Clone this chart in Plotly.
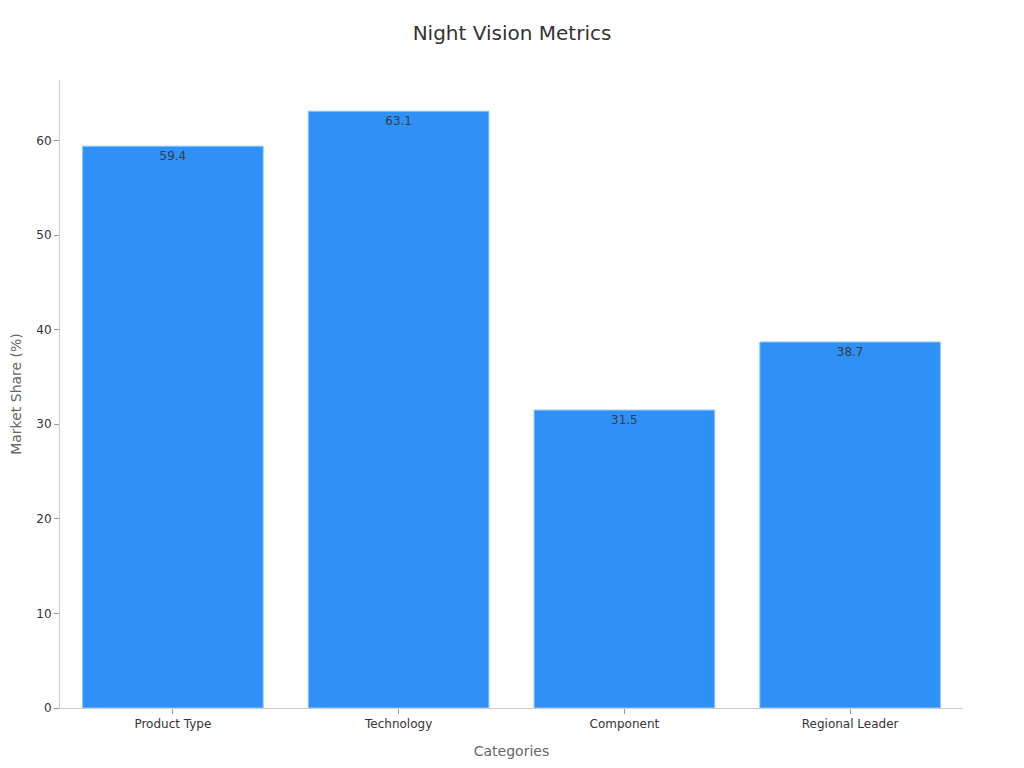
import plotly.graph_objects as go

categories = ["Product Type", "Technology", "Component", "Regional Leader"]
market_share = [59.4, 63.1, 31.5, 38.7]

fig = go.Figure()
fig.add_trace(go.Bar(
    x=categories,
    y=market_share,
    text=[f"{v:.1f}" for v in market_share],
    textposition="inside",
    insidetextanchor="end",
    textfont=dict(color="#3a3a3a", size=12),
    marker=dict(color="#2F91F8", line=dict(color="#8EC4FA", width=1)),
))

# page has an 8px body margin, so size the figure to fit the window
fig.update_layout(
    template="simple_white",
    title=dict(text="Night Vision Metrics", x=0.5, y=0.976, xanchor="center",
               font=dict(size=20, color="#333333")),
    font=dict(family="DejaVu Sans", size=12, color="#333333"),
    width=1008,
    height=752,
    margin=dict(l=52, r=53, t=72, b=52),
    bargap=0.2,
    showlegend=False,
    xaxis=dict(title=dict(text="Categories", font=dict(size=14, color="#666666")),
               linecolor="#cccccc", tickcolor="#999999", automargin=False),
    yaxis=dict(title=dict(text="Market Share (%)", font=dict(size=14, color="#666666")),
               linecolor="#cccccc", tickcolor="#999999", range=[0, 66.4],
               automargin=False),
)

fig.write_html("out.html")
